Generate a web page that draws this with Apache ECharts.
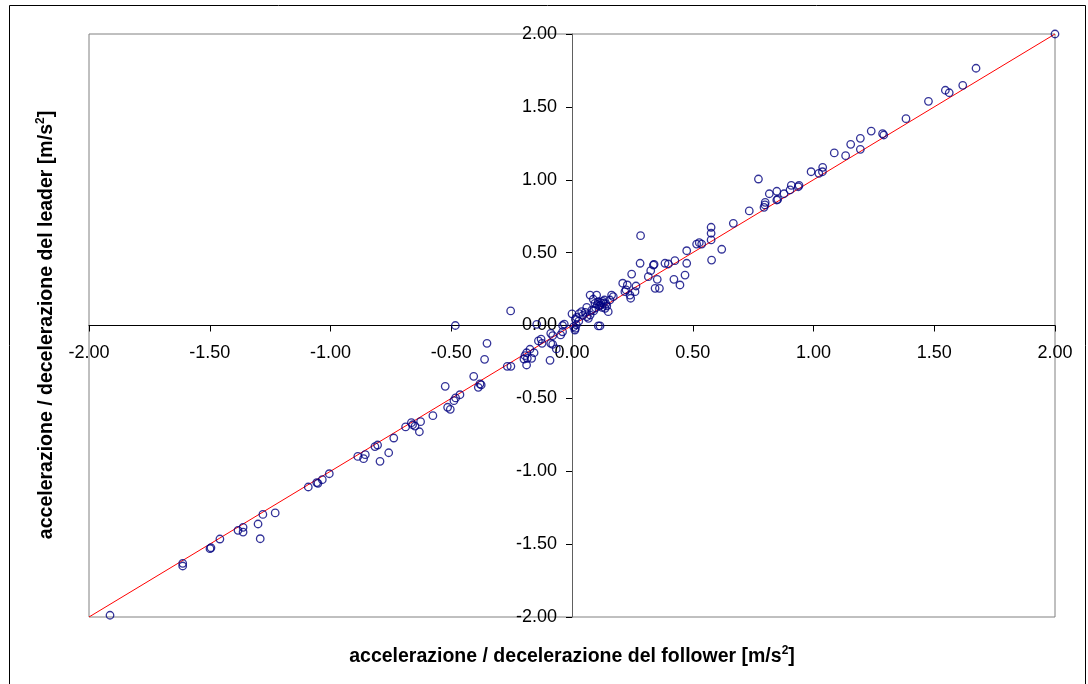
<!DOCTYPE html>
<html>
<head>
<meta charset="utf-8">
<script src="https://cdn.jsdelivr.net/npm/echarts@6/dist/echarts.min.js"></script>
<style>
html,body{margin:0;padding:0;background:#fff;}
#chart{width:1088px;height:684px;}
</style>
</head>
<body>
<div id="chart"></div>
<script>
// follower acceleration (x) and leader acceleration (y), m/s^2
const follower = [
-1.913,-1.612,-1.612,-1.499,-1.495,-1.458,-1.383,-1.362,-1.362,-1.300,-1.291,-1.280,-1.229,
-1.092,-1.057,-1.052,-1.034,-1.005,-0.887,-0.863,-0.856,-0.816,-0.805,-0.795,-0.759,-0.738,
-0.689,-0.665,-0.660,-0.650,-0.627,-0.632,-0.576,-0.515,-0.504,-0.525,-0.489,-0.482,-0.464,
-0.407,-0.388,-0.381,-0.376,-0.362,-0.352,-0.483,-0.254,-0.268,-0.253,-0.188,-0.195,-0.174,
-0.157,-0.185,-0.167,-0.199,-0.188,-0.139,-0.128,-0.124,-0.146,-0.091,-0.088,-0.080,-0.088,
-0.080,-0.065,-0.039,-0.032,-0.047,-0.039,
0.000,0.007,0.014,0.012,0.018,0.028,0.019,0.014,0.030,0.040,0.045,0.055,0.061,0.061,0.068,
0.075,0.082,0.075,0.102,0.088,0.095,0.109,0.113,0.119,0.124,0.130,0.134,0.137,0.144,0.150,
0.157,0.164,0.171,0.109,0.116,0.105,0.118,0.127,0.098,0.090,0.140,
0.210,0.229,0.224,0.219,0.240,0.243,0.247,0.261,0.265,0.282,0.284,0.316,0.326,0.337,0.340,
0.344,0.353,0.362,0.385,0.399,0.422,0.426,0.447,0.468,0.475,0.475,0.516,0.527,0.537,0.578,
0.576,0.576,0.576,0.620,0.668,
0.734,0.772,0.795,0.799,0.800,0.817,0.848,0.848,0.852,0.878,0.903,0.908,0.937,0.940,0.990,
1.022,1.037,1.038,1.086,1.133,1.154,1.194,1.194,1.239,1.286,1.291,1.383,1.476,1.546,1.562,
1.618,1.673,2.000
];
const leader = [
-1.988,-1.632,-1.650,-1.531,-1.525,-1.465,-1.405,-1.385,-1.417,-1.362,-1.463,-1.296,-1.286,
-1.108,-1.078,-1.083,-1.058,-1.017,-0.898,-0.914,-0.886,-0.831,-0.820,-0.932,-0.873,-0.772,
-0.696,-0.667,-0.681,-0.690,-0.660,-0.729,-0.619,-0.561,-0.575,-0.417,-0.516,-0.497,-0.475,
-0.349,-0.424,-0.401,-0.408,-0.232,-0.122,0.000,0.100,-0.280,-0.280,-0.187,-0.207,-0.163,
-0.187,-0.225,-0.225,-0.230,-0.271,-0.106,-0.093,-0.122,0.008,-0.239,-0.054,-0.070,-0.122,
-0.129,-0.161,0.000,0.010,-0.065,-0.043,
0.080,-0.008,-0.019,-0.031,0.005,0.030,0.056,0.043,0.081,0.095,0.070,0.090,0.125,0.060,0.049,
0.072,0.106,0.209,0.209,0.180,0.152,0.163,0.134,0.157,0.125,0.152,0.175,0.118,0.134,0.095,
0.175,0.209,0.198,-0.003,-0.003,0.145,0.140,0.165,0.120,0.100,0.150,
0.290,0.278,0.244,0.232,0.209,0.187,0.353,0.232,0.271,0.427,0.616,0.335,0.376,0.415,0.420,
0.255,0.317,0.255,0.427,0.422,0.317,0.445,0.278,0.346,0.427,0.513,0.559,0.568,0.559,0.449,
0.587,0.633,0.674,0.523,0.701,
0.786,1.005,0.811,0.827,0.845,0.904,0.921,0.861,0.866,0.904,0.930,0.962,0.952,0.962,1.055,
1.044,1.055,1.085,1.184,1.165,1.243,1.209,1.284,1.334,1.316,1.307,1.419,1.538,1.614,1.597,
1.648,1.765,2.000
];
// bisector reference line endpoints
const lineX = [-2, 2];
const lineY = [-2, 2];
const xTitle = 'accelerazione / decelerazione del follower [m/s';
const yTitle = 'accelerazione / decelerazione del leader [m/s';

const FONT = '"Liberation Sans", Arial, sans-serif';
const chart = echarts.init(document.getElementById('chart'), null, {renderer: 'canvas'});
const pts = follower.map((x, i) => [x, leader[i]]);
const linePts = lineX.map((x, i) => [x, lineY[i]]);

const W = 1088, H = 684;
const G = {left: 89, right: 33, top: 34, bottom: 67};
const gw = W - G.left - G.right, gh = H - G.top - G.bottom;

const titleRich = {
  a: {fontFamily: FONT, fontWeight: 'bold', fontSize: 19.5, lineHeight: 24, fill: '#000'},
  s: {fontFamily: FONT, fontWeight: 'bold', fontSize: 12, lineHeight: 24, verticalAlign: 'top', fill: '#000'}
};

chart.setOption({
  animation: false,
  backgroundColor: '#fff',
  grid: Object.assign({show: true, borderColor: '#808080', borderWidth: 1, backgroundColor: 'transparent'}, G),
  xAxis: {
    type: 'value', min: -2, max: 2, interval: 0.5, position: 'bottom', offset: -gh / 2,
    axisLine: {onZero: false, lineStyle: {color: '#000', width: 1}},
    axisTick: {show: true, inside: false, length: 6, lineStyle: {color: '#000'}},
    axisLabel: {fontFamily: FONT, fontSize: 18, color: '#000', margin: 19, formatter: v => v.toFixed(2)},
    splitLine: {show: false}
  },
  yAxis: {
    type: 'value', min: -2, max: 2, interval: 0.5, position: 'left', offset: -gw / 2,
    axisLine: {onZero: false, lineStyle: {color: '#606060', width: 1}},
    axisTick: {show: true, inside: false, length: 6, lineStyle: {color: '#000'}},
    axisLabel: {fontFamily: FONT, fontSize: 18, color: '#000', margin: 15, formatter: v => v.toFixed(2)},
    splitLine: {show: false}
  },
  series: [
    {
      type: 'line', data: linePts, symbol: 'none', silent: true,
      lineStyle: {color: '#ff0000', width: 1}, z: 2
    },
    {
      type: 'scatter', data: pts, symbol: 'circle', symbolSize: 7.5,
      itemStyle: {color: 'transparent', borderColor: '#000080', borderWidth: 1.3}, z: 3
    }
  ],
  graphic: [
    {type: 'rect', shape: {x: 9.5, y: 5.5, width: 1076, height: 700}, style: {fill: 'none', stroke: '#000', lineWidth: 1}, silent: true, z: -1},
    {
      type: 'text', x: 572, y: 657, z: 10,
      style: {text: '{a|' + xTitle + '}{s|2}{a|]}', rich: titleRich, align: 'center', verticalAlign: 'middle'}
    },
    {
      type: 'text', x: 47, y: 325, rotation: Math.PI / 2, z: 10,
      style: {text: '{a|' + yTitle + '}{s|2}{a|]}', rich: titleRich, align: 'center', verticalAlign: 'middle'}
    }
  ]
});
</script>
</body>
</html>
